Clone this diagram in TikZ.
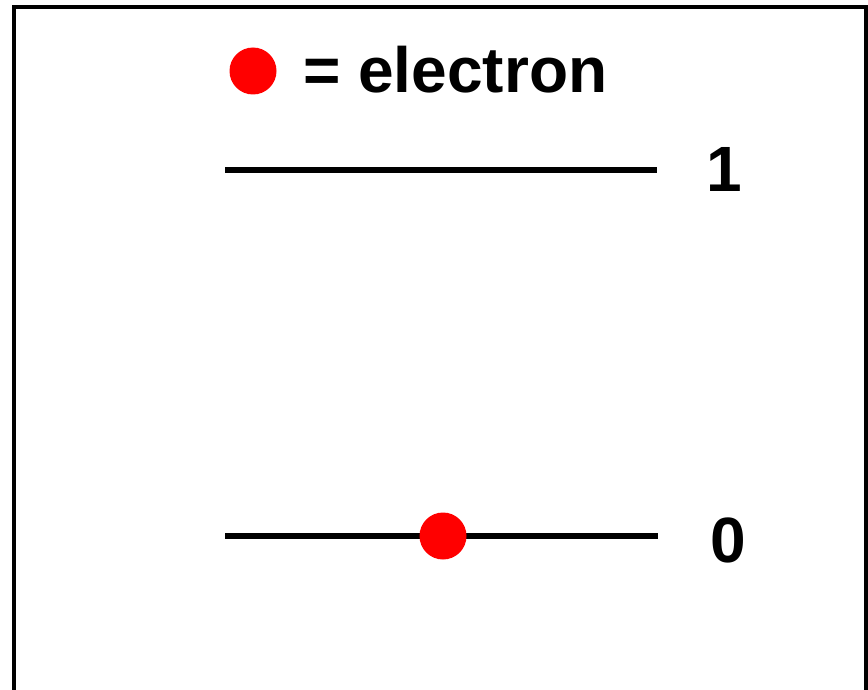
\documentclass[tikz,border=0pt]{standalone}
\usepackage{fontspec}
\setmainfont{Liberation Sans}
\tikzset{
  level/.style={line width=6pt},
  electron/.style={circle, fill=red, inner sep=0pt, minimum size=47pt},
  lbl/.style={inner sep=0pt, font=\bfseries\fontsize{64}{70}\selectfont}
}
\begin{document}
\begin{tikzpicture}[x=1pt,y=-1pt]
        \useasboundingbox (0,0) rectangle (868,690);

        % Frame (open at the bottom)
        \draw[line width=4pt] (14,690) -- (14,7) -- (866,7) -- (866,690);

        % Legend
        \node[electron] (key) at (253,71) {};
        \node[lbl, anchor=base west] (keytext) at (303,93) {= electron};

        % Energy levels
        \draw[level] (225,170) -- (657,170);
        \node[lbl, anchor=base] (n1) at (724,192) {1};
        \draw[level] (225,536) -- (658,536);
        \node[lbl, anchor=base] (n0) at (728,562) {0};

        % Electron in the ground state
        \node[electron] (e) at (443,536) {};

    \end{tikzpicture}
\end{document}
